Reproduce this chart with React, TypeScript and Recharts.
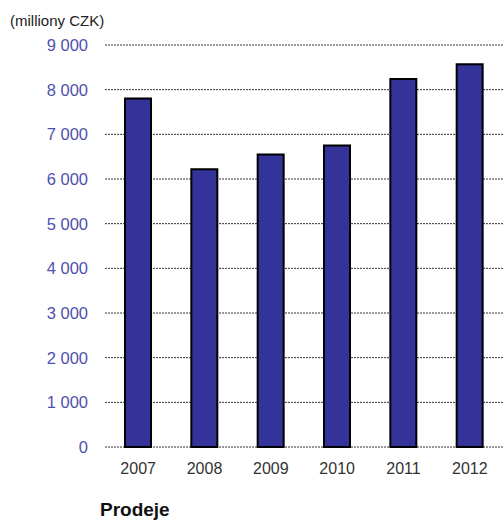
import { Bar, BarChart, CartesianGrid, XAxis, YAxis } from "recharts";

const years = ["2007", "2008", "2009", "2010", "2011", "2012"];
const prodeje = [7800, 6220, 6550, 6750, 8240, 8570];
const yTicks = [0, 1000, 2000, 3000, 4000, 5000, 6000, 7000, 8000, 9000];

const data = years.map((y, i) => ({ year: y, value: prodeje[i] }));

// "9 000" style thousands separator
function fmtThousands(v: number): string {
  return String(v).replace(/\B(?=(\d{3})+(?!\d))/g, " ");
}

const font = '"Liberation Sans", Arial, sans-serif';

export default function App() {
  return (
    <div
      style={{
        position: "absolute",
        left: 0,
        top: 0,
        width: 503,
        height: 523,
        background: "#fff",
        fontFamily: font,
      }}
    >
      <div
        style={{
          position: "absolute",
          left: 10,
          top: 12,
          fontSize: 15,
          lineHeight: "18px",
          color: "#222",
        }}
      >
        (milliony CZK)
      </div>
      <BarChart
        width={503}
        height={480}
        data={data}
        margin={{ top: 45, right: 0, left: 0, bottom: 3 }}
        barCategoryGap={0}
      >
        <CartesianGrid
          vertical={false}
          stroke="#333"
          strokeDasharray="2 1"
        />
        <XAxis
          dataKey="year"
          axisLine={false}
          tickLine={false}
          tickSize={0}
          tickMargin={16}
          tick={{ fill: "#333", fontSize: 16, fontFamily: font }}
          interval={0}
        />
        <YAxis
          width={105}
          domain={[0, 9000]}
          ticks={yTicks}
          axisLine={false}
          tickLine={false}
          tickSize={0}
          tickMargin={17}
          tickFormatter={fmtThousands}
          tick={{ fill: "#4f4fae", fontSize: 16.5, fontFamily: font }}
        />
        <Bar
          dataKey="value"
          fill="#333399"
          stroke="#000"
          strokeWidth={2}
          barSize={26}
          isAnimationActive={false}
        />
      </BarChart>
      <div
        style={{
          position: "absolute",
          left: 100,
          top: 499,
          fontSize: 19,
          lineHeight: "22px",
          fontWeight: "bold",
          color: "#111",
        }}
      >
        Prodeje
      </div>
    </div>
  );
}
